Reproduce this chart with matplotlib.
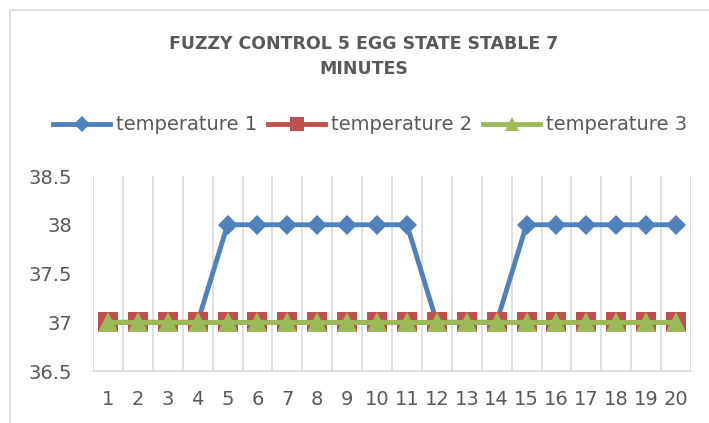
import numpy as np
import matplotlib
matplotlib.use("Agg")
import matplotlib.pyplot as plt
from matplotlib.patches import Rectangle

# datos
minutos = list(range(1, 21))
temperatura_1 = [37, 37, 37, 37, 38, 38, 38, 38, 38, 38, 38, 37, 37, 37, 38, 38, 38, 38, 38, 38]
temperatura_2 = [37] * 20
temperatura_3 = [37] * 20
etiquetas_y = [36.5, 37, 37.5, 38, 38.5]

azul = '#4F81BD'
rojo = '#C0504D'
verde = '#9BBB59'
gris = '#595959'

plt.rcParams['font.family'] = ['DejaVu Sans']

fig = plt.figure(figsize=(7.09, 4.23), dpi=100)
ax = fig.add_axes([93/709, 1-371/423, (691-93)/709, (371-176)/423])

ax.plot(minutos, temperatura_1, color=azul, lw=3.5, marker='D', ms=10.5, mew=0,
        label='temperature 1', zorder=3)
ax.plot(minutos, temperatura_2, color=rojo, lw=3.5, marker='s', ms=14, mew=0,
        label='temperature 2', zorder=4)
ax.plot(minutos, temperatura_3, color=verde, lw=3.5, marker='^', ms=14, mew=0,
        label='temperature 3', zorder=5)

ax.set_xlim(0.5, 20.5)
ax.set_ylim(36.5, 38.5)
ax.set_xticks(minutos)
ax.set_xticklabels([str(m) for m in minutos])
ax.set_yticks(etiquetas_y)
ax.set_yticklabels(['36.5', '37', '37.5', '38', '38.5'])
ax.set_xticks(np.arange(0.5, 21, 1), minor=True)
ax.grid(True, which='minor', axis='x', color='#D9D9D9', lw=1.2)
ax.grid(False, which='major')
ax.tick_params(axis='both', which='both', length=0, labelsize=14, colors=gris)
ax.tick_params(axis='x', pad=14)
ax.tick_params(axis='y', pad=15)
for s in ['top', 'right', 'left']:
    ax.spines[s].set_visible(False)
ax.spines['bottom'].set_color('#D9D9D9')
ax.spines['bottom'].set_linewidth(1.2)

fig.text(364/709, 1-44/423, 'FUZZY CONTROL 5 EGG STATE STABLE 7', ha='center', va='center',
         fontsize=12.5, fontweight='bold', color=gris)
fig.text(364/709, 1-69/423, 'MINUTES', ha='center', va='center',
         fontsize=12.5, fontweight='bold', color=gris)

fig.legend(loc='center', bbox_to_anchor=(370/709, 1-125/423), ncol=3, frameon=False,
           fontsize=14, handlelength=2.9, handletextpad=0.3, columnspacing=0.6,
           markerscale=0.75, labelcolor=gris)

# borde del gráfico
fig.patches.append(Rectangle((10/709, -0.1), 1.2, 1-10/423+0.1, transform=fig.transFigure,
                             fill=False, edgecolor='#D9D9D9', lw=1.2))

plt.savefig('out.png', dpi=100)
